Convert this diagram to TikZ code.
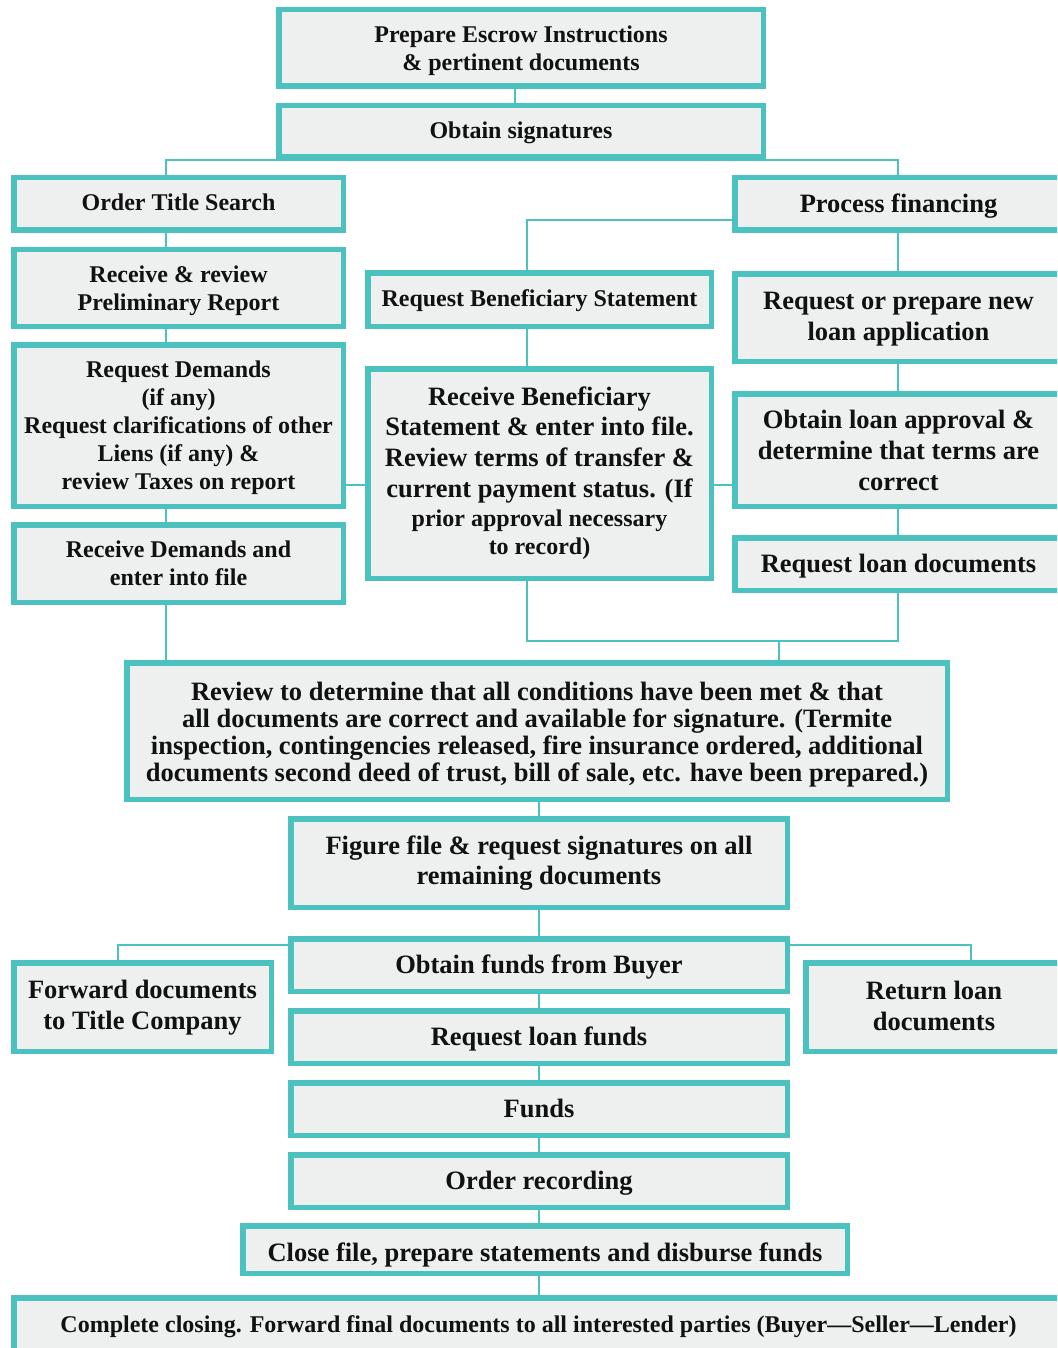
\documentclass[tikz,border=0pt]{standalone}
\usepackage{fontspec}
\setmainfont{Liberation Serif}
\usetikzlibrary{calc}
\definecolor{tealline}{RGB}{76,194,192}
\definecolor{boxfill}{RGB}{238,239,239}
\definecolor{ink}{RGB}{17,17,17}
\newcommand\fS{\fontsize{24}{28}\selectfont\bfseries}
\newcommand\fL{\fontsize{26.5}{30.7}\selectfont\bfseries}
\newcommand\fR{\fontsize{26.5}{27}\selectfont\bfseries}
\def\bordw{5.5}
\newcommand\flowbox[8][2.5]{%
 \pgfmathsetmacro\cx{(#3+#4)/2}%
 \pgfmathsetmacro\cy{(#5+#6)/2}%
 \pgfmathsetmacro\ty{(#5+#6)/2+#1}%
 \pgfmathsetmacro\bw{#4-#3-\bordw}%
 \pgfmathsetmacro\bh{#6-#5-\bordw}%
 \node[box,minimum width=\bw pt,minimum height=\bh pt] (#2) at (\cx,\cy) {};
 \node[boxtext,font=#7] (#2t) at (\cx,\ty) {\strut #8\strut};}
\tikzset{
  box/.style={draw=tealline, line width=\bordw pt, fill=boxfill, inner sep=0pt},
  boxtext/.style={text=ink, align=center, inner sep=0pt},
  conn/.style={draw=tealline, line width=2.2pt}
}
\begin{document}
\begin{tikzpicture}[x=1pt,y=-1pt]
\useasboundingbox (0,0) rectangle (1057,1348);
\clip (0,0) rectangle (1057,1348);
\fill[white] (0,0) rectangle (1057,1348);

% helper coordinates
\coordinate (colL) at (166,0);
\coordinate (colM) at (527,0);
\coordinate (colR) at (898,0);
\coordinate (colT) at (515,0);
\coordinate (colC) at (539,0);
\coordinate (rowE) at (0,485);
\coordinate (mj) at (779,641);
\coordinate (fw) at (118,945);
\coordinate (rt) at (971,945);

% boxes
\flowbox{pe}{276}{766}{7}{89}{\fS}{Prepare Escrow Instructions\\ \& pertinent documents}
\flowbox[1]{sig}{276}{766}{103}{160}{\fS}{Obtain signatures}
\flowbox[1]{ots}{11}{346}{175}{233}{\fS}{Order Title Search}
\flowbox{rrp}{11}{346}{247}{329}{\fS}{Receive \& review\\Preliminary Report}
\flowbox{rd}{11}{346}{342}{509}{\fS}{Request Demands\\(if any)\\Request clarifications of other\\Liens (if any) \&\\review Taxes on report}
\flowbox{rdf}{11}{346}{522}{605}{\fS}{Receive Demands and\\enter into file}
\flowbox{pf}{732}{1065}{175}{233}{\fL}{Process financing}
\flowbox[1]{rbs}{365}{714}{270}{329}{\fS}{Request Beneficiary Statement}
\flowbox[0]{rben}{365}{714}{366}{581}{\fL}{Receive Beneficiary\\Statement \& enter into file.\\Review terms of transfer \&\\current payment status. (If\\[-1.7pt]{\fS prior approval necessary}\\[-2.7pt]{\fS to record)}}
\flowbox[1.5]{rla}{732}{1065}{271}{364}{\fL}{Request or prepare new\\loan application}
\flowbox[3.5]{ola}{732}{1065}{391}{509}{\fL}{Obtain loan approval \&\\determine that terms are\\correct}
\flowbox{rld}{732}{1065}{535}{593}{\fL}{Request loan documents}
\flowbox[4.5]{rev}{124}{950}{660}{802}{\fR}{Review to determine that all conditions have been met \& that\\all documents are correct and available for signature. (Termite\\inspection, contingencies released, fire insurance ordered, additional\\documents second deed of trust, bill of sale, etc. have been prepared.)}
\flowbox[0.5]{fig}{288}{790}{816}{910}{\fL}{Figure file \& request signatures on all\\remaining documents}
\flowbox{ofb}{288}{790}{936}{994}{\fL}{Obtain funds from Buyer}
\flowbox[0.5]{fwd}{11}{274}{960}{1054}{\fL}{Forward documents\\to Title Company}
\flowbox[1.5]{ret}{803}{1065}{960}{1054}{\fL}{Return loan\\documents}
\flowbox{rlf}{288}{790}{1008}{1066}{\fL}{Request loan funds}
\flowbox{fun}{288}{790}{1080}{1138}{\fL}{Funds}
\flowbox{orc}{288}{790}{1152}{1210}{\fL}{Order recording}
\flowbox[5.5]{cls}{240}{850}{1223}{1276}{\fL}{Close file, prepare statements and disburse funds}
\flowbox{cc}{11}{1066}{1295}{1353}{\fS}{Complete closing. Forward final documents to all interested parties (Buyer—Seller—Lender)}

% connectors
\draw[conn] (pe.south -| colT) -- (sig.north -| colT);
\draw[conn] (ots.north -| colL) |- (sig.south) -| (pf.north -| colR);
\draw[conn] (ots.south -| colL) -- (rrp.north -| colL);
\draw[conn] (rrp.south -| colL) -- (rd.north -| colL);
\draw[conn] (rd.south -| colL) -- (rdf.north -| colL);
\draw[conn] (rdf.south -| colL) -- (rev.north -| colL);
\draw[conn] ($(pf.west)+(0,16)$) -| (rbs.north -| colM);
\draw[conn] (rbs.south -| colM) -- (rben.north -| colM);
\draw[conn] (pf.south -| colR) -- (rla.north -| colR);
\draw[conn] (rla.south -| colR) -- (ola.north -| colR);
\draw[conn] (ola.south -| colR) -- (rld.north -| colR);
\draw[conn] (rd.east |- rowE) -- (rben.west |- rowE);
\draw[conn] (rben.east |- rowE) -- (ola.west |- rowE);
\draw[conn] (rben.south -| colM) |- (mj) -| (rld.south -| colR);
\draw[conn] (mj) -- (rev.north -| mj);
\draw[conn] (rev.south -| colC) -- (fig.north -| colC);
\draw[conn] (fig.south -| colC) -- (ofb.north -| colC);
\draw[conn] (ofb.west |- fw) -| (fwd.north -| fw);
\draw[conn] (ofb.east |- rt) -| (ret.north -| rt);
\draw[conn] (ofb.south -| colC) -- (rlf.north -| colC);
\draw[conn] (rlf.south -| colC) -- (fun.north -| colC);
\draw[conn] (fun.south -| colC) -- (orc.north -| colC);
\draw[conn] (orc.south -| colC) -- (cls.north -| colC);
\draw[conn] (cls.south -| colC) -- (cc.north -| colC);
\end{tikzpicture}
\end{document}
